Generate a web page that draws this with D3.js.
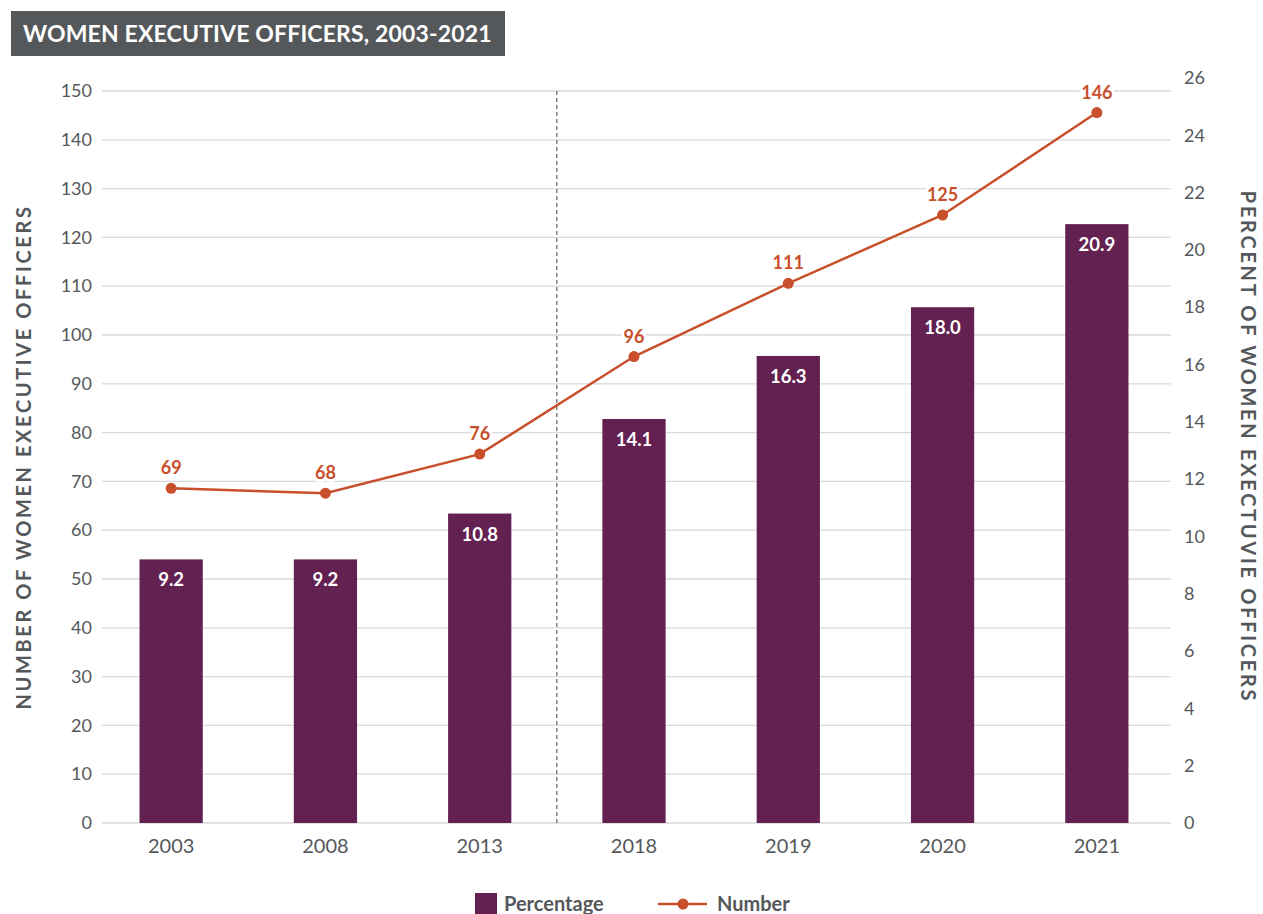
<!DOCTYPE html>
<html>
<head>
<meta charset="utf-8">
<script src="https://cdn.jsdelivr.net/npm/d3@7"></script>
<style>
  body { margin: 0; background: #fff; font-family: Lato, "Open Sans", sans-serif; }
  svg text { font-family: Lato, sans-serif; }
</style>
</head>
<body>
<div id="chart"></div>
<script>
// data
const years = ["2003", "2008", "2013", "2018", "2019", "2020", "2021"];
const percentage = [9.2, 9.2, 10.8, 14.1, 16.3, 18.0, 20.9];
const number = [69, 68, 76, 96, 111, 125, 146];
const leftTicks = d3.range(0, 151, 10);
const rightTicks = d3.range(0, 27, 2);

const W = 1263, H = 914;
const gray = "#55585b";
const purple = "#632151";
const orange = "#c84f2b";

const svg = d3.select("#chart").append("svg")
    .attr("width", W)
    .attr("height", H);

// Title box
svg.append("rect")
    .attr("x", 11).attr("y", 11)
    .attr("width", 494).attr("height", 45)
    .attr("fill", gray);
svg.append("text")
    .attr("x", 23).attr("y", 42)
    .attr("fill", "#fff")
    .attr("font-size", 23)
    .attr("font-weight", 700)
    .attr("letter-spacing", 0.15)
    .text("WOMEN EXECUTIVE OFFICERS, 2003-2021");

// Scales
const x = d3.scaleBand()
    .domain(years)
    .range([94, 1174])
    .paddingInner(0.59)
    .paddingOuter(0.295);

const yLeft = d3.scaleLinear().domain([0, 150]).range([823, 91]);
const yRight = d3.scaleLinear().domain([0, 26]).range([823, 78]);

// Gridlines
svg.append("g").selectAll("line")
    .data(leftTicks)
    .join("line")
    .attr("x1", 102).attr("x2", 1171)
    .attr("y1", d => yLeft(d)).attr("y2", d => yLeft(d))
    .attr("stroke", "#d9d9d9")
    .attr("stroke-width", 1.3);

// Left axis
const leftAxis = svg.append("g")
    .attr("transform", "translate(102,0)")
    .call(d3.axisLeft(yLeft).tickValues(leftTicks).tickSize(0).tickPadding(10));
leftAxis.select(".domain").remove();
leftAxis.selectAll("text").attr("fill", gray).attr("font-size", 18);

// Right axis
const rightAxis = svg.append("g")
    .attr("transform", "translate(1174,0)")
    .call(d3.axisRight(yRight).tickValues(rightTicks).tickSize(0).tickPadding(10));
rightAxis.select(".domain").remove();
rightAxis.selectAll("text").attr("fill", gray).attr("font-size", 18);

// X axis
const xAxis = svg.append("g")
    .attr("transform", "translate(0,823)")
    .call(d3.axisBottom(x).tickSize(0).tickPadding(16));
xAxis.select(".domain").remove();
xAxis.selectAll("text").attr("fill", gray).attr("font-size", 20);

// Dashed separator between 2013 and 2018
const sepX = (x("2013") + x.bandwidth() + x("2018")) / 2;
svg.append("line")
    .attr("x1", sepX).attr("x2", sepX)
    .attr("y1", yLeft(150)).attr("y2", yLeft(0))
    .attr("stroke", "#444")
    .attr("stroke-width", 1)
    .attr("stroke-dasharray", "4,3");

// Bars (percentage, right axis)
const barData = years.map((y, i) => ({ year: y, pct: percentage[i], num: number[i] }));

svg.append("g").selectAll("rect")
    .data(barData)
    .join("rect")
    .attr("x", d => x(d.year))
    .attr("y", d => yRight(d.pct))
    .attr("width", x.bandwidth())
    .attr("height", d => yRight(0) - yRight(d.pct))
    .attr("fill", purple);

svg.append("g").selectAll("text")
    .data(barData)
    .join("text")
    .attr("x", d => x(d.year) + x.bandwidth() / 2)
    .attr("y", d => yRight(d.pct) + 27)
    .attr("text-anchor", "middle")
    .attr("fill", "#fff")
    .attr("font-size", 18.5)
    .attr("font-weight", 700)
    .text(d => d.pct.toFixed(1));

// Line (number, left axis)
const line = d3.line()
    .x(d => x(d.year) + x.bandwidth() / 2)
    .y(d => yLeft(d.num) + 2);

svg.append("path")
    .datum(barData)
    .attr("d", line)
    .attr("fill", "none")
    .attr("stroke", orange)
    .attr("stroke-width", 2.5);

svg.append("g").selectAll("circle")
    .data(barData)
    .join("circle")
    .attr("cx", d => x(d.year) + x.bandwidth() / 2)
    .attr("cy", d => yLeft(d.num) + 2)
    .attr("r", 5.5)
    .attr("fill", orange);

svg.append("g").selectAll("text")
    .data(barData)
    .join("text")
    .attr("x", d => x(d.year) + x.bandwidth() / 2)
    .attr("y", d => yLeft(d.num) - 12)
    .attr("text-anchor", "middle")
    .attr("fill", orange)
    .attr("stroke", "#fff")
    .attr("stroke-width", 6)
    .attr("paint-order", "stroke")
    .attr("font-size", 18)
    .attr("font-weight", 700)
    .text(d => d.num);

// Axis titles
svg.append("text")
    .attr("transform", "translate(31,457) rotate(-90)")
    .attr("text-anchor", "middle")
    .attr("fill", gray)
    .attr("font-size", 20)
    .attr("font-weight", 700)
    .attr("letter-spacing", 2.6)
    .text("NUMBER OF WOMEN EXECUTIVE OFFICERS");

svg.append("text")
    .attr("transform", "translate(1241,447) rotate(90)")
    .attr("text-anchor", "middle")
    .attr("fill", gray)
    .attr("font-size", 20)
    .attr("font-weight", 700)
    .attr("letter-spacing", 2.7)
    .text("PERCENT OF WOMEN EXECTUVIE OFFICERS");

// Legend
const legend = svg.append("g");
legend.append("rect")
    .attr("x", 475).attr("y", 893)
    .attr("width", 22).attr("height", 21)
    .attr("fill", purple);
legend.append("text")
    .attr("x", 504).attr("y", 911)
    .attr("fill", gray)
    .attr("font-size", 20)
    .attr("font-weight", 700)
    .text("Percentage");
legend.append("line")
    .attr("x1", 658).attr("x2", 707)
    .attr("y1", 904).attr("y2", 904)
    .attr("stroke", orange)
    .attr("stroke-width", 2.5);
legend.append("circle")
    .attr("cx", 683).attr("cy", 904)
    .attr("r", 5.5)
    .attr("fill", orange);
legend.append("text")
    .attr("x", 717).attr("y", 911)
    .attr("fill", gray)
    .attr("font-size", 20)
    .attr("font-weight", 700)
    .text("Number");
</script>
</body>
</html>
